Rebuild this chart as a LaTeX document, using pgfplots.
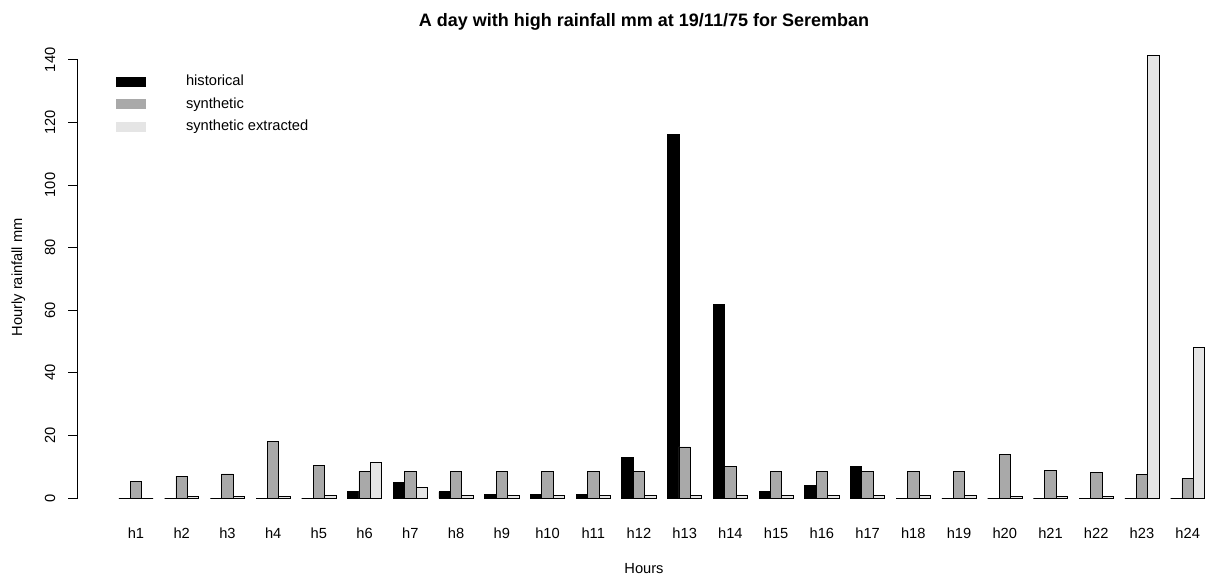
\documentclass[border=0pt]{standalone}
\usepackage{fontspec}
\setmainfont{Liberation Sans}
\usepackage{pgfplots}
\pgfplotsset{compat=1.18}
\usepackage{pgfplotstable}

% hourly rainfall mm, one row per hour
\pgfplotstableread{
h  hist  synth  extr
1  0     5.4    0
2  0     7.0    0.5
3  0     7.7    0.5
4  0     18.0   0.5
5  0     10.5   0.9
6  2.2   8.5    11.4
7  5.0   8.5    3.5
8  2.0   8.5    0.8
9  1.0   8.5    0.8
10 1.0   8.5    0.8
11 1.0   8.5    0.8
12 13.0  8.5    0.8
13 116.0 16.3   0.8
14 61.9  10.0   0.8
15 2.0   8.5    0.8
16 4.0   8.5    0.8
17 10.0  8.5    0.8
18 0     8.5    0.8
19 0     8.5    0.8
20 0     14.0   0.5
21 0     8.8    0.5
22 0     8.2    0.5
23 0     7.5    141.4
24 0     6.3    48.0
}\rain

\definecolor{synthgray}{HTML}{A9A9A9}
\definecolor{extrgray}{HTML}{E5E5E5}

\begin{document}
\begin{tikzpicture}
\begin{axis}[
  at={(57.75pt,45.9pt)}, anchor=south west,
  width=850.5pt, height=359.2pt,
  scale only axis,
  clip=false,
  xmin=-0.29, xmax=24.51,
  ymin=-6, ymax=147,
  axis line style={draw=none},
  xtick={1,...,24},
  xticklabels={h1,h2,h3,h4,h5,h6,h7,h8,h9,h10,h11,h12,h13,h14,h15,h16,h17,h18,h19,h20,h21,h22,h23,h24},
  x tick style={draw=none},
  xticklabel style={yshift=2.25pt},
  ytick={0,20,...,140},
  ytick pos=left,
  tick align=outside,
  major tick length=6.75pt,
  y tick style={black, line width=0.7pt},
  yticklabel style={rotate=90, anchor=south},
  yticklabel shift=6pt,
  /pgf/number format/assume math mode=true,
  ticklabel style={font=\fontsize{11}{13}\selectfont},
  label style={font=\fontsize{11}{13}\selectfont},
  xlabel={Hours},
  ylabel={Hourly rainfall mm},
  xlabel style={yshift=-12pt},
  ylabel style={yshift=8pt},
  title={A day with high rainfall mm at 19/11/75 for Seremban},
  title style={font=\fontsize{13.5}{16}\bfseries, yshift=-4pt},
  legend style={draw=none, fill=none, at={(0.0309,0.9337)}, anchor=north west,
    font=\fontsize{11}{13}\selectfont, row sep=3.4pt},
  legend cell align=left,
  legend image code/.code={
    \path[#1, draw=none] (0pt,-3.75pt) rectangle (22.5pt,3.75pt);
    \path (50pt,0pt);
  },
]
\addplot[ybar, bar width=0.25, bar shift=-0.25, draw=black, line width=0.6pt, fill=black]
  table[x=h, y=hist] {\rain};
\addlegendentry{historical}
\addplot[ybar, bar width=0.25, bar shift=0, draw=black, line width=0.6pt, fill=synthgray]
  table[x=h, y=synth] {\rain};
\addlegendentry{synthetic}
\addplot[ybar, bar width=0.25, bar shift=0.25, draw=black, line width=0.6pt, fill=extrgray]
  table[x=h, y=extr] {\rain};
\addlegendentry{synthetic extracted}

% y axis line spans only the tick range, as in R
\draw[black, line width=1pt, line cap=rect] (axis cs:-0.285,0) -- (axis cs:-0.285,140);
\end{axis}
\pgfresetboundingbox
\useasboundingbox (0pt,0pt) rectangle (908.25pt,433.5pt);
\end{tikzpicture}
\end{document}
